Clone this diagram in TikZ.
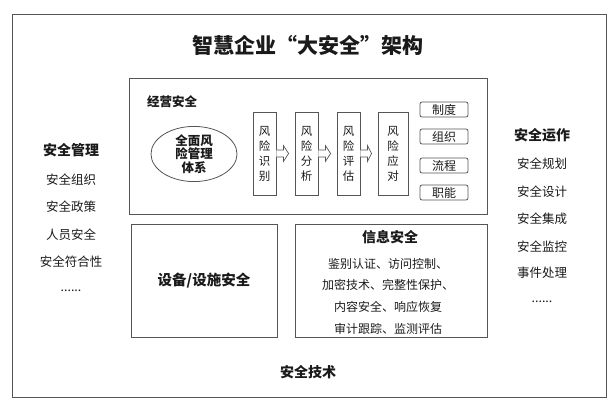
\documentclass[tikz,border=0pt]{standalone}
\usepackage{fontspec}
\setmainfont{Noto Sans CJK SC}
\usetikzlibrary{shapes.geometric,calc}
\definecolor{ln}{HTML}{555555}
\definecolor{tx}{HTML}{1A1A1A}
\tikzset{
  box/.style={draw=ln,line width=0.8pt,inner sep=0pt},
  riskbox/.style={box,minimum height=83pt,align=center,font=\fontsize{11.5}{15}\selectfont,text=tx},
  tag/.style={box,rounded corners=2pt,minimum width=48pt,minimum height=15pt,font=\fontsize{12}{14}\selectfont,text=tx},
  item/.style={font=\fontsize{12.5}{14}\selectfont,text=tx,inner sep=0pt},
  head/.style={font=\fontsize{14}{16}\bfseries\selectfont,text=tx,inner sep=0pt},
  harrow/.style={draw=ln,line width=0.7pt,fill=white,line join=miter}
}
\begin{document}
\begin{tikzpicture}[x=1pt,y=-1pt]
\useasboundingbox (0,0) rectangle (616,409);
% outer frame
\node[box,minimum width=594pt,minimum height=383pt] (outer) at (309,205.5) {};
\node[font=\fontsize{21}{24}\bfseries\selectfont,text=tx,inner sep=0pt] (title) at (308,45) {智慧企业“大安全”架构};
% business security
\node[box,minimum width=358pt,minimum height=136pt] (jy) at (308,146) {};
\node[font=\fontsize{12.5}{14}\bfseries\selectfont,text=tx,inner sep=0pt] (jyt) at (172,102) {经营安全};
\node[draw=ln,line width=0.8pt,ellipse,minimum width=86pt,minimum height=54pt,inner sep=0pt,align=center,font=\fontsize{12.5}{13.5}\bfseries\selectfont,text=tx] (erm) at (194,154) {全面风\\险管理\\体系};
\node[riskbox,minimum width=23pt] (r1) at (264.5,153.5) {风\\险\\识\\别};
\node[riskbox,minimum width=23pt] (r2) at (306.5,153.5) {风\\险\\分\\析};
\node[riskbox,minimum width=23pt] (r3) at (348.5,153.5) {风\\险\\评\\估};
\node[riskbox,minimum width=30pt] (r4) at (393,153.5) {风\\险\\应\\对};
\foreach \a/\b in {r1/r2,r2/r3,r3/r4}{
  \draw[harrow] ($(\a.east)+(0,-3.5)$) -- ($(\a.east)+(7,-3.5)$) -- ($(\a.east)+(7,-8)$) -- ($(\b.west)+(-6,0)$) -- ($(\a.east)+(7,8)$) -- ($(\a.east)+(7,3.5)$) -- ($(\a.east)+(0,3.5)$);
}
\node[tag] (t1) at (444,109.5) {制度};
\node[tag] (t2) at (444,136.5) {组织};
\node[tag] (t3) at (444,165.5) {流程};
\node[tag] (t4) at (444,192.5) {职能};
% device security
\node[box,minimum width=146pt,minimum height=113pt,font=\fontsize{14.5}{16}\bfseries\selectfont,text=tx] (dev) at (204,280.5) {设备/设施安全};
% info security
\node[box,minimum width=192pt,minimum height=113pt] (info) at (391,280.5) {};
\node[head] (infot) at (390,237) {信息安全};
\node[font=\fontsize{12}{21.7}\selectfont,text=tx,inner sep=0pt,align=center] (infol) at (388,296) {鉴别认证、访问控制、\\加密技术、完整性保护、\\内容安全、响应恢复\\审计跟踪、监测评估};
% left column
\node[head] (mg) at (71,150) {安全管理};
\node[item] (m1) at (71,180) {安全组织};
\node[item] (m2) at (71,207) {安全政策};
\node[item] (m3) at (71,235) {人员安全};
\node[item] (m4) at (71,262) {安全符合性};
\node[item] (m5) at (71,291) {......};
% right column
\node[head] (op) at (542,135) {安全运作};
\node[item] (o1) at (542,164) {安全规划};
\node[item] (o2) at (542,192) {安全设计};
\node[item] (o3) at (542,219) {安全集成};
\node[item] (o4) at (542,247) {安全监控};
\node[item] (o5) at (542,273) {事件处理};
\node[item] (o6) at (542,302) {......};
% bottom
\node[head] (tech) at (308,372) {安全技术};
\end{tikzpicture}
\end{document}
